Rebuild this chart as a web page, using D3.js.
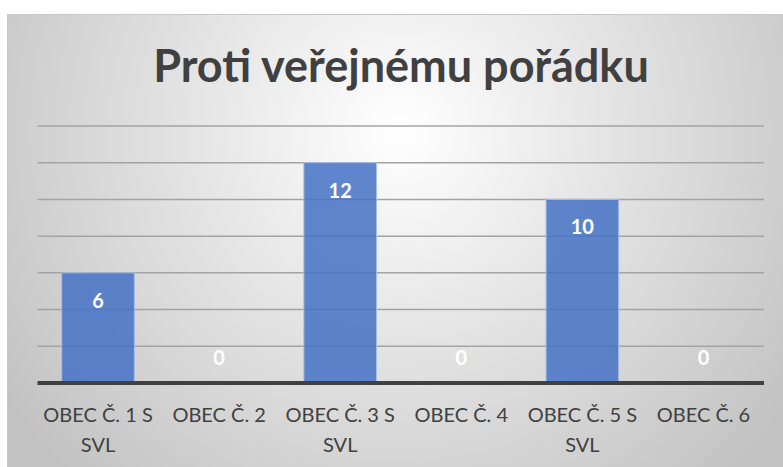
<!DOCTYPE html>
<html lang="cs">
<head>
  <meta charset="utf-8">
  <style>
    body { margin: 0; background: #fff; }
    svg { display: block; }
    .title { font-family: Lato, sans-serif; font-weight: bold; fill: #404040; }
    .cat { font-family: Lato, sans-serif; fill: #404040; }
    .lbl { font-family: Lato, sans-serif; font-weight: bold; fill: #fff; }
  </style>
</head>
<body>
<svg width="783" height="467"></svg>
<script src="https://cdn.jsdelivr.net/npm/d3@7"></script>
<script>
// data
var categories = ["OBEC Č. 1 S SVL", "OBEC Č. 2", "OBEC Č. 3 S SVL", "OBEC Č. 4", "OBEC Č. 5 S SVL", "OBEC Č. 6"];
var catLines = [["OBEC Č. 1 S", "SVL"], ["OBEC Č. 2"], ["OBEC Č. 3 S", "SVL"], ["OBEC Č. 4"], ["OBEC Č. 5 S", "SVL"], ["OBEC Č. 6"]];
var values = [6, 0, 12, 0, 10, 0];
var gridTicks = [2, 4, 6, 8, 10, 12, 14];
var title = "Proti veřejnému pořádku";

var svg = d3.select("svg"),
    margin = {top: 126, right: 19, bottom: 84, left: 37.5},
    width = +svg.attr("width") - margin.left - margin.right,
    height = +svg.attr("height") - margin.top - margin.bottom;

// background with radial gradient
var defs = svg.append("defs");
var rg = defs.append("radialGradient")
    .attr("id", "bg")
    .attr("gradientUnits", "userSpaceOnUse")
    .attr("cx", 400).attr("cy", 130).attr("r", 480);
rg.append("stop").attr("offset", "0%").attr("stop-color", "#ffffff");
rg.append("stop").attr("offset", "100%").attr("stop-color", "#c2c2c2");

svg.append("rect")
    .attr("x", 7.5).attr("y", 14.5)
    .attr("width", 790).attr("height", 470)
    .attr("fill", "url(#bg)")
    .attr("stroke", "#c8c8c8")
    .attr("stroke-width", 1);

svg.append("text")
    .attr("class", "title")
    .attr("x", 401)
    .attr("y", 82)
    .attr("text-anchor", "middle")
    .attr("font-size", 45)
    .text(title);

var g = svg.append("g").attr("transform", "translate(" + margin.left + "," + margin.top + ")");

var x = d3.scaleBand()
    .domain(categories)
    .range([0, width])
    .paddingInner(0.4)
    .paddingOuter(0.2);
var y = d3.scaleLinear()
    .domain([0, 14])
    .range([height, 0]);

// gridlines
g.append("g")
  .selectAll("line")
  .data(gridTicks)
  .enter().append("line")
    .attr("x1", 0)
    .attr("x2", width)
    .attr("y1", function(d) { return y(d); })
    .attr("y2", function(d) { return y(d); })
    .attr("stroke", "#a3a3a3")
    .attr("stroke-width", 1.5);

// bars
g.append("g")
  .selectAll("rect")
  .data(values)
  .enter().append("rect")
    .attr("x", function(d, i) { return x(categories[i]); })
    .attr("y", function(d) { return y(d); })
    .attr("width", x.bandwidth())
    .attr("height", function(d) { return height - y(d); })
    .attr("fill", "#4472c4")
    .attr("fill-opacity", 0.85)
    .attr("stroke", "#a9bde6")
    .attr("stroke-width", 1);

// axis line
g.append("line")
    .attr("x1", 0).attr("x2", width)
    .attr("y1", y(0)).attr("y2", y(0))
    .attr("stroke", "#404040")
    .attr("stroke-width", 4);

// data labels
g.append("g")
  .selectAll("text")
  .data(values)
  .enter().append("text")
    .attr("class", "lbl")
    .attr("x", function(d, i) { return x(categories[i]) + x.bandwidth() / 2; })
    .attr("y", function(d) { return d > 0 ? y(d) + 35 : y(d) - 18; })
    .attr("text-anchor", "middle")
    .attr("font-size", 20)
    .text(function(d) { return d; });

// category labels
var cat = g.append("g")
  .selectAll("text")
  .data(catLines)
  .enter().append("text")
    .attr("class", "cat")
    .attr("text-anchor", "middle")
    .attr("font-size", 20)
    .attr("transform", function(d, i) { return "translate(" + (x(categories[i]) + x.bandwidth() / 2) + "," + (y(0) + 39) + ")"; });
cat.selectAll("tspan")
  .data(function(d) { return d; })
  .enter().append("tspan")
    .attr("x", 0)
    .attr("y", function(d, i) { return i * 30; })
    .text(function(d) { return d; });
</script>
</body>
</html>
